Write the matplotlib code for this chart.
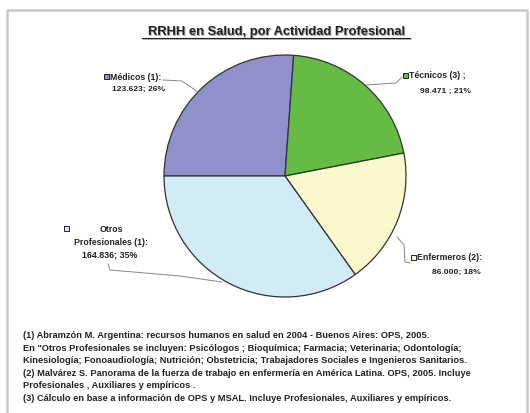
import matplotlib
matplotlib.use("Agg")
import matplotlib.pyplot as plt
from matplotlib.patches import Rectangle

plt.rcParams['font.family'] = ['Liberation Sans', 'DejaVu Sans']

# Data (order clockwise starting at 9 o'clock)
categories = ["Médicos (1):", "Técnicos (3) ;", "Enfermeros (2):", "Otros Profesionales (1):"]
values = [123.623, 98.471, 86.000, 164.836]
value_labels = ["123.623; 26%", "98.471 ; 21%", "86.000; 18%", "164.836; 35%"]
colors = ["#9090CA", "#66BB44", "#FCF8CE", "#D2ECF5"]

title = "RRHH en Salud, por Actividad Profesional"
footnotes = [
    "(1) Abramzón M. Argentina: recursos humanos en salud en 2004 - Buenos Aires: OPS, 2005.",
    "En \"Otros Profesionales se incluyen: Psicólogos ; Bioquímica; Farmacia; Veterinaria; Odontología;",
    "Kinesiología; Fonoaudiología; Nutrición; Obstetricia; Trabajadores Sociales e Ingenieros Sanitarios.",
    "(2) Malvárez S. Panorama de la fuerza de trabajo en enfermería en América Latina. OPS, 2005. Incluye",
    "Profesionales , Auxiliares y empíricos .",
    "(3) Cálculo en base a información de OPS y MSAL. Incluye Profesionales, Auxiliares y empíricos.",
]

W, H = 530, 414
fig = plt.figure(figsize=(W / 100, H / 100), dpi=100)
ax = fig.add_axes([0, 0, 1, 1])

def Y(y):
    return H - y

# pie
cx, cy, r = 285, 177, 121
ax.pie(values, colors=colors, startangle=180, counterclock=False,
       center=(cx, Y(cy)), radius=r, frame=True,
       wedgeprops=dict(edgecolor="#333333", linewidth=0.9))
ax.set_xlim(0, W)
ax.set_ylim(0, H)
ax.axis("off")

# frame
ax.plot([7, 7, 527, 527], [Y(414), Y(11), Y(11), Y(414)], color="#C8C8C8", lw=1.8, zorder=1)

# title with shadow and underline
tfs = 9.3
ax.text(276 + 1.2, Y(32) - 1.2, title, ha="center", va="center", fontsize=tfs,
        fontweight="bold", color="#AAAAAA", zorder=4)
ax.text(276, Y(32), title, ha="center", va="center", fontsize=tfs,
        fontweight="bold", color="#222222", zorder=5)
ax.plot([142, 410], [Y(39), Y(39)], color="#222222", lw=0.8, zorder=5)
ax.plot([143, 411], [Y(40.2), Y(40.2)], color="#AAAAAA", lw=0.6, zorder=4)

cfs = 6.3
vfs = 6.1
tc = "#222222"
lc = "#888888"

def key(x, y, color):
    ax.add_patch(Rectangle((x - 2.5, Y(y) - 2.5), 5, 5, facecolor=color,
                           edgecolor="#222222", lw=0.7, zorder=6))

# Médicos
key(106, 77, colors[0])
ax.text(110, Y(77), categories[0], ha="left", va="center", fontsize=cfs, fontweight="bold", color=tc)
ax.text(165, Y(89), value_labels[0], ha="right", va="center", fontsize=vfs, fontweight="bold", color=tc)
ax.plot([163, 182, 198], [Y(81), Y(82), Y(93)], color=lc, lw=0.7)

# Técnicos
key(405, 76, colors[1])
ax.text(409, Y(76), categories[1], ha="left", va="center", fontsize=cfs, fontweight="bold", color=tc)
ax.text(445, Y(91), value_labels[1], ha="center", va="center", fontsize=vfs, fontweight="bold", color=tc)
ax.plot([366, 396, 402], [Y(86), Y(84), Y(78)], color=lc, lw=0.7)

# Enfermeros
key(413, 258, colors[2])
ax.text(416.5, Y(258), categories[2], ha="left", va="center", fontsize=cfs, fontweight="bold", color=tc)
ax.text(456, Y(272), value_labels[2], ha="center", va="center", fontsize=vfs, fontweight="bold", color=tc)
ax.plot([397, 404, 405, 410], [Y(238), Y(246), Y(263), Y(264)], color=lc, lw=0.7)

# Otros Profesionales
key(66, 229, colors[3])
ax.text(111, Y(230), "Otros", ha="center", va="center", fontsize=cfs, fontweight="bold", color=tc)
ax.text(111, Y(243), "Profesionales (1):", ha="center", va="center", fontsize=cfs, fontweight="bold", color=tc)
ax.text(110, Y(255), value_labels[3], ha="center", va="center", fontsize=6.4, fontweight="bold", color=tc)
ax.plot([108, 110, 180, 222], [Y(265), Y(271), Y(277), Y(283)], color=lc, lw=0.7)

# footnotes
y0, dy = 336, 12.5
for i, line in enumerate(footnotes):
    ax.text(23, Y(y0 + i * dy), line, ha="left", va="center", fontsize=6.7,
            fontweight="bold", color=tc)

fig.savefig("out.png", dpi=100, facecolor="white")
